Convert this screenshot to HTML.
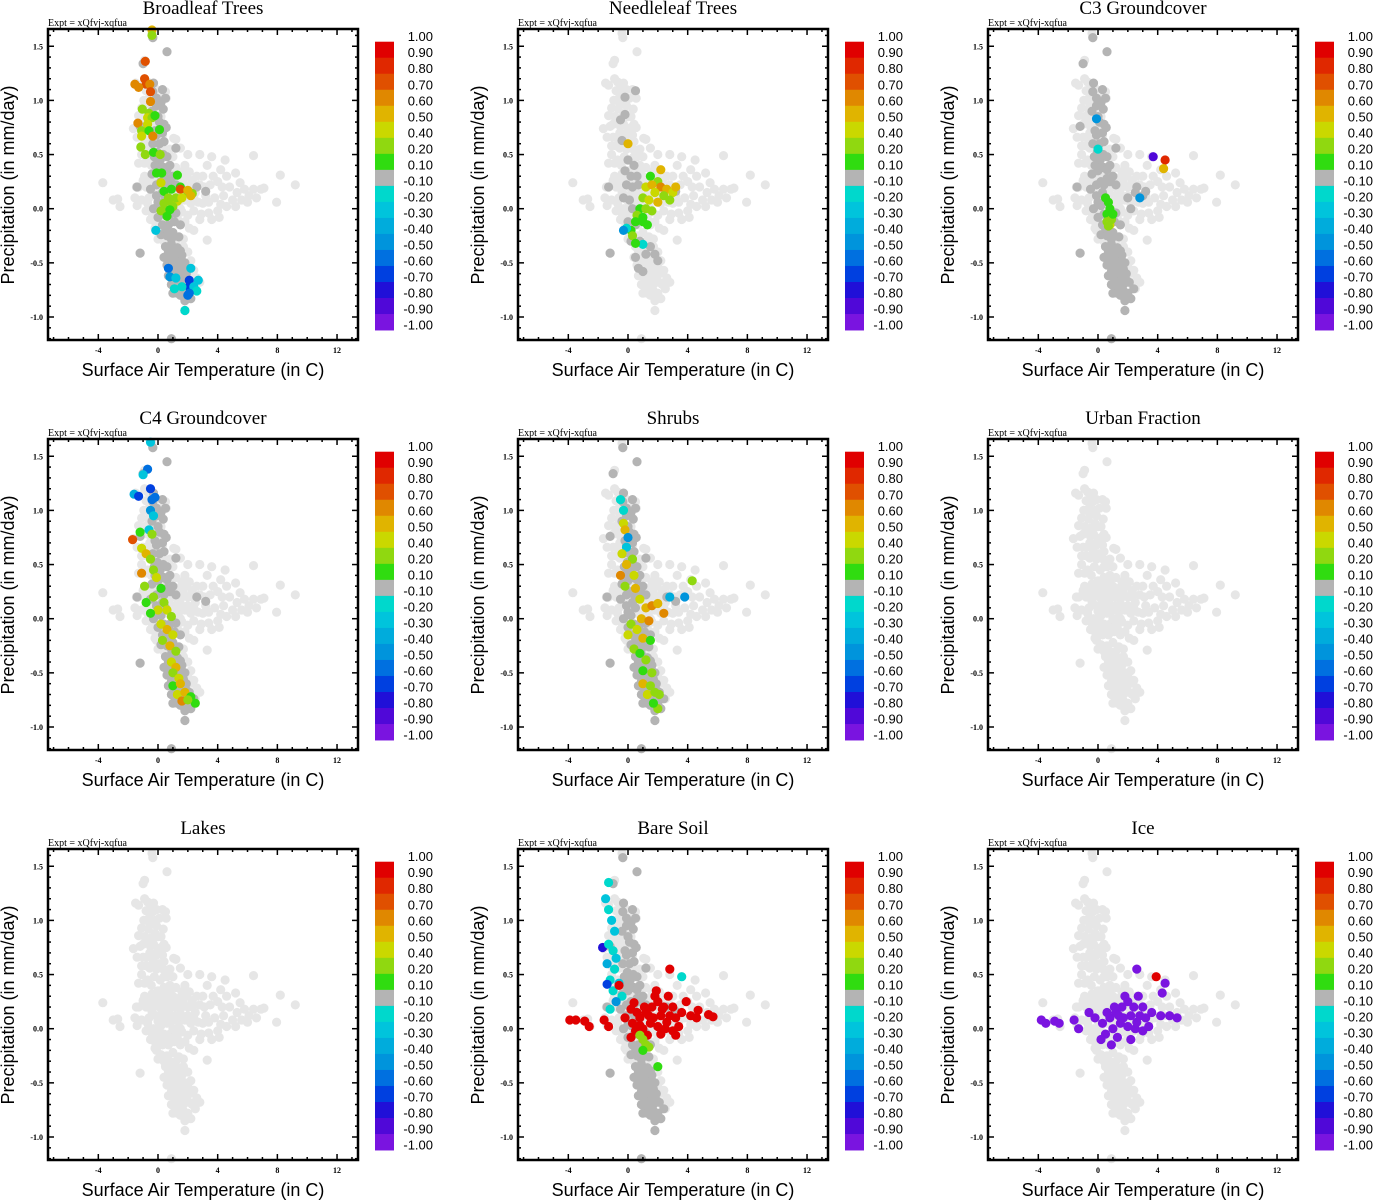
<!DOCTYPE html>
<html><head><meta charset="utf-8"><style>
html,body{margin:0;padding:0;background:#fff;}
svg{display:block;}
.ser{font-family:"Liberation Serif",serif;}
.san{font-family:"Liberation Sans",sans-serif;}
</style></head>
<body>
<svg id="chart" xmlns="http://www.w3.org/2000/svg" width="1373" height="1200" viewBox="0 0 1373 1200"></svg>
<script>
// ---- data ----
const panelTitles = ["Broadleaf Trees","Needleleaf Trees","C3 Groundcover","C4 Groundcover","Shrubs","Urban Fraction","Lakes","Bare Soil","Ice"];
const xTicks = [-4,0,4,8,12];
const yTicks = [-1.0,-0.5,0.0,0.5,1.0,1.5];
const cbLabels = ["1.00","0.90","0.80","0.70","0.60","0.50","0.40","0.20","0.10","-0.10","-0.20","-0.30","-0.40","-0.50","-0.60","-0.70","-0.80","-0.90","-1.00"];
const cbBounds = [1,0.9,0.8,0.7,0.6,0.5,0.4,0.2,0.1,-0.1,-0.2,-0.3,-0.4,-0.5,-0.6,-0.7,-0.8,-0.9,-1.0];
const cbColors = ['#e00000','#e02800','#e05000','#e08800','#e0b400','#cad800','#90d810','#30dc10','#b4b4b4','#00d8cc','#00c4dc','#00acdc','#0094dc','#0070e0','#0040e0','#2010d8','#5008d8','#7a14e0'];

// shared cloud (all grid points, light gray)
const cloud = [[-0.4,1.62],[-0.35,1.58],[0.6,1.45],[-1.0,1.34],[-0.9,1.37],[-1.5,1.16],[-1.3,1.14],[-0.9,1.2],[-0.7,1.17],[-0.5,1.15],[-0.3,1.16],[0.3,1.1],[-0.8,1.09],[-0.35,1.08],[-0.1,1.1],[0.5,1.08],[0.55,1.02],[-1.1,0.93],[-0.65,0.92],[-0.1,0.95],[0.35,0.92],[-0.9,0.85],[-0.45,0.84],[0.0,0.85],[0.4,0.78],[-1.65,0.74],[-1.2,0.76],[-0.75,0.8],[-0.3,0.78],[0.2,0.75],[-1.0,0.66],[-0.55,0.7],[-0.1,0.68],[0.55,0.75],[-0.8,0.58],[-0.35,0.6],[0.1,0.6],[0.4,0.62],[1.05,0.65],[1.2,0.64],[1.5,0.56],[-1.3,0.42],[-0.7,0.45],[-0.25,0.48],[0.15,0.45],[0.6,0.48],[-1.1,0.5],
[-0.6,1.02],[-0.2,1.0],[0.1,1.02],[-0.95,1.0],[-0.55,0.96],[-1.3,0.86],[-0.2,0.88],[0.2,0.85],[-1.0,0.78],[-0.5,0.76],[0.0,0.72],[-1.4,0.66],[-0.75,0.66],[-0.3,0.66],[0.3,0.68],[-1.1,0.58],[-0.55,0.56],[-0.1,0.55],[0.35,0.55],[0.8,0.55],[-0.9,0.42],[-0.45,0.4],[0.4,0.48],[1.0,0.48],[2.0,0.5],
[-0.9,0.3],[-0.4,0.32],[0.0,0.35],[0.4,0.38],[0.8,0.4],[1.2,0.38],[1.8,0.4],[-1.3,0.2],[-0.8,0.2],[-0.3,0.22],[0.2,0.25],[0.6,0.28],[1.0,0.3],[1.4,0.28],[1.9,0.3],[2.3,0.26],[-1.1,0.08],[-0.6,0.1],[-0.1,0.12],[0.3,0.15],[0.7,0.18],[1.1,0.2],[1.5,0.18],[2.0,0.2],[2.5,0.15],[-0.8,-0.02],[-0.3,0.0],[0.2,0.03],[0.6,0.05],[1.0,0.08],[1.4,0.06],[1.8,0.08],[2.2,0.05],[2.7,0.06],[-0.5,-0.1],[0.0,-0.08],[0.4,-0.05],[0.8,-0.05],[1.2,-0.04],[1.6,-0.03],[2.0,-0.06],[-0.2,-0.18],[0.3,-0.15],[0.7,-0.15],[1.1,-0.12],[1.5,-0.15],[2.1,-0.18],[0.2,-0.24],[0.6,-0.25],[1.0,-0.22],[1.4,-0.26],[-0.1,-0.2],
[-0.6,0.25],[-0.1,0.28],[0.4,0.3],[0.8,0.33],[1.6,0.34],[2.1,0.34],[2.6,0.3],[-0.4,0.16],[0.1,0.2],[0.5,0.22],[0.9,0.25],[1.3,0.24],[1.7,0.24],[2.3,0.2],[2.8,0.22],[-0.7,0.05],[0.0,0.07],[0.4,0.1],[0.8,0.13],[1.2,0.12],[1.6,0.12],[2.0,0.12],[2.4,0.1],[3.0,0.05],[-0.4,-0.04],[0.1,-0.02],[1.0,0.0],[1.5,0.0],[2.4,-0.02],[-0.2,-0.12],[0.5,-0.1],[0.9,-0.1],[1.3,-0.09],[1.8,-0.12],[0.0,-0.28],[0.4,-0.3],[0.8,-0.3],[1.2,-0.3],[1.7,-0.28],
[-3.7,0.24],[-3.0,0.08],[-2.7,0.09],[-2.55,0.02],[-1.55,0.1],[-1.45,0.2],[-1.4,0.03],[-1.0,0.26],[-1.2,-0.41],[-0.4,-0.1],
[2.8,0.5],[3.6,0.48],[3.3,0.4],[4.5,0.45],[4.2,0.36],[5.2,0.33],[6.4,0.49],[3.0,0.3],[3.5,0.22],[4.0,0.25],[4.8,0.2],[5.3,0.15],[5.8,0.18],[6.4,0.18],[6.9,0.18],[7.1,0.19],[6.6,0.1],[3.2,0.12],[3.8,0.1],[4.4,0.12],[5.0,0.08],[5.6,0.08],[6.0,0.06],[7.95,0.06],[8.2,0.31],[9.2,0.22],[2.9,-0.05],[3.4,-0.04],[4.0,-0.02],[4.6,0.02],[2.8,-0.1],[4.1,-0.08],[3.3,-0.29],[2.4,-0.2],
[3.1,0.2],[3.7,0.3],[4.3,0.2],[4.6,0.3],[5.5,0.24],[6.1,0.12],[3.4,0.06],[4.2,0.04],[5.2,0.02],[3.6,-0.1],
[0.5,-0.35],[0.9,-0.33],[1.3,-0.36],[1.7,-0.35],[0.4,-0.45],[0.8,-0.42],[1.2,-0.45],[1.6,-0.43],[2.0,-0.4],[0.6,-0.52],[1.0,-0.55],[1.4,-0.52],[1.8,-0.5],[2.2,-0.48],[0.7,-0.62],[1.1,-0.64],[1.5,-0.62],[1.9,-0.6],[2.4,-0.57],[0.9,-0.7],[1.3,-0.73],[1.7,-0.7],[2.1,-0.68],[2.6,-0.64],[2.8,-0.68],[1.0,-0.78],[1.5,-0.8],[2.0,-0.78],[2.5,-0.74],[1.8,-0.85],[2.2,-0.83],[1.8,-0.94],[0.9,-1.2],
[0.7,-0.4],[1.1,-0.4],[1.5,-0.39],[0.8,-0.48],[1.2,-0.5],[1.6,-0.48],[2.0,-0.52],[0.9,-0.58],[1.3,-0.58],[1.7,-0.56],[2.1,-0.6],[1.1,-0.68],[1.5,-0.67],[1.9,-0.66],[1.3,-0.78],[1.7,-0.76],[2.3,-0.7]];

// dark-gray (|r|<0.1) bands
const bandUpper = [[-0.35,1.58],[0.6,1.45],[-1.0,1.34],[-0.3,1.16],[0.3,1.1],[-0.35,1.08],[0.5,1.02],[-0.1,0.95],[0.35,0.92],[0.0,0.85],[0.4,0.78],[-1.2,0.76],[-0.1,0.68],[0.55,0.75],[-0.35,0.6],[0.1,0.6],[0.4,0.62],[1.2,0.56],[-0.25,0.48],[0.15,0.45],[0.6,0.48],[-1.4,0.2],[-0.4,0.32],[0.0,0.35],[0.4,0.38],[0.8,0.4],[0.2,0.25],[0.6,0.28],[1.0,0.3],[-0.1,0.12],[0.3,0.15],[2.6,0.2],[-0.3,0.0],[0.2,0.03],
[-0.1,1.02],[0.2,0.98],[-0.4,0.9],[0.1,0.8],[-0.2,0.72],[0.3,0.7],[-0.05,0.52],[0.35,0.5],[-0.2,0.4],[0.2,0.38],[0.6,0.36],[-0.1,0.22],[0.4,0.22],[0.8,0.25],[0.0,0.06],[0.5,0.1],[-0.5,0.18],[1.2,0.22],[3.2,0.16]];
const bandLower = [[0.0,-0.08],[0.4,-0.05],[0.8,-0.05],[1.2,-0.04],[0.3,-0.15],[0.7,-0.15],[1.1,-0.12],[1.5,-0.15],[0.2,-0.24],[0.6,-0.25],[1.0,-0.22],[1.4,-0.26],[0.5,-0.35],[0.9,-0.33],[1.3,-0.36],[0.4,-0.45],[0.8,-0.42],[1.2,-0.45],[1.6,-0.43],[0.6,-0.52],[1.0,-0.55],[1.4,-0.52],[1.8,-0.5],[0.7,-0.62],[1.1,-0.64],[1.5,-0.62],[1.9,-0.6],[0.9,-0.7],[1.3,-0.73],[1.7,-0.7],[2.1,-0.68],[1.0,-0.78],[1.5,-0.8],[2.0,-0.78],[1.8,-0.85],[2.2,-0.83],[1.8,-0.94],[-1.2,-0.41],[0.9,-1.2],
[0.7,-0.4],[1.1,-0.4],[1.5,-0.39],[0.8,-0.48],[1.2,-0.5],[1.6,-0.48],[0.9,-0.58],[1.3,-0.58],[1.7,-0.56],[1.1,-0.68],[1.5,-0.67],[1.9,-0.66],[1.3,-0.78],[1.7,-0.76],[2.4,-0.74],[0.5,-0.18],[0.9,-0.28]];
const useBands = [[1,1],[0,0],[1,1],[1,1],[1,1],[0,0],[0,0],[1,1],[0,0]];

// colored points per panel: [T, P, r]
const ovBroadleaf = [[-0.4,1.65,0.5],[-0.4,1.6,0.2],[-0.85,1.36,0.7],[-0.9,1.2,0.7],[-0.8,1.15,0.7],[-1.55,1.15,0.6],[-1.3,1.12,0.6],[-0.55,1.15,0.6],[-0.5,1.08,0.7],[-0.5,0.99,0.6],[-1.05,0.92,0.2],[-0.6,0.88,0.2],[-0.7,0.84,0.4],[-0.4,0.84,0.2],[-0.2,0.86,0.1],[-1.35,0.79,0.6],[-0.7,0.78,0.4],[-1.1,0.72,0.2],[-0.6,0.72,0.1],[0.1,0.73,0.1],[-1.1,0.67,0.4],[-0.35,0.67,0.6],[-1.15,0.57,0.2],[-0.85,0.5,0.2],[-0.3,0.52,0.1],[0.15,0.5,0.2],[-0.1,0.33,0.1],[0.25,0.33,0.1],[0.2,0.24,0.4],[1.3,0.31,0.1],[0.4,0.16,0.1],[0.9,0.18,0.1],[1.5,0.2,0.1],[2.0,0.15,0.2],[2.3,0.14,0.2],[1.5,0.18,0.7],[2.0,0.17,0.5],[2.2,0.12,0.5],[0.4,0.05,0.2],[0.9,0.06,0.2],[1.3,0.07,0.4],[1.0,0.02,0.2],[0.2,-0.02,0.2],[0.5,-0.03,0.2],[0.6,-0.07,0.1],[0.8,-0.01,0.1],[1.2,0.1,0.2],[1.6,0.1,0.4],[0.7,0.1,0.2],[-0.15,-0.2,-0.3],[0.7,-0.55,-0.6],[0.8,-0.63,-0.5],[1.2,-0.64,-0.3],[2.1,-0.66,-0.7],[2.7,-0.66,-0.3],[2.1,-0.72,-0.7],[1.1,-0.74,-0.2],[1.6,-0.72,-0.2],[2.4,-0.72,-0.3],[2.6,-0.76,-0.2],[2.0,-0.8,-0.6],[2.1,-0.78,-0.6],[2.2,-0.55,-0.3],[1.8,-0.94,-0.2]];
const ovNeedleleaf = [[-0.5,0.82,0],[-0.2,0.87,0],[-0.2,1.03,0],[0.5,1.09,0],[-0.4,0.63,0],[-1.3,0.2,0],[0.0,0.45,0],[0.4,0.4,0],[-0.2,0.35,0],[0.2,0.3,0],[0.6,0.3,0],[-0.1,0.22,0],[0.3,0.2,0],[0.7,0.22,0],[-0.3,0.1,0],[0.1,0.08,0],[0.3,0.0,0],[0.0,-0.12,0],[0.5,-0.15,0],[0.2,-0.3,0],[0.8,-0.3,0],[1.5,-0.35,0],[1.8,-0.42,0],[0.5,-0.45,0],[1.2,-0.42,0],[0.7,-0.55,0],[1.0,-0.58,0],[2.0,-0.48,0],[-1.2,-0.41,0],[3.2,0.16,0],
[0.0,0.6,0.5],[1.5,0.3,0.1],[2.0,0.25,0.2],[2.2,0.36,0.5],[1.2,0.2,0.4],[1.6,0.22,0.5],[2.2,0.2,0.6],[2.6,0.18,0.5],[3.0,0.15,0.4],[3.2,0.2,0.5],[1.8,0.15,0.4],[2.4,0.12,0.2],[1.0,0.1,0.2],[1.4,0.08,0.4],[2.0,0.06,0.5],[2.8,0.08,0.2],[0.8,0.0,0.1],[1.2,0.0,0.2],[1.6,-0.02,0.2],[0.6,-0.06,0.2],[1.0,-0.08,0.1],[0.5,-0.12,0.1],[0.2,-0.2,0.1],[1.0,-0.12,0.1],[1.3,-0.15,0.1],[-0.1,-0.18,-0.2],[-0.3,-0.2,-0.5],[0.3,-0.25,0.2],[1.0,-0.33,-0.2],[0.5,-0.32,0.1]];
const ovC3 = [[2.0,0.1,0],[2.5,0.15,0],[3.0,0.12,0],[2.2,0.0,0],[-0.1,0.83,-0.5],[0.0,0.55,-0.2],[3.7,0.48,-0.9],[4.5,0.45,0.8],[4.4,0.37,0.5],[2.8,0.1,-0.5],[0.5,0.1,0.1],[0.7,0.06,0.1],[0.8,0.0,0.1],[0.6,-0.05,0.1],[0.9,-0.08,0.1],[0.6,-0.12,0.2],[0.8,-0.15,0.4],[0.9,-0.1,0.2],[1.0,-0.05,0.1],[0.7,-0.16,0.2]];
const ovC4 = [[-0.5,1.63,-0.3],[-0.7,1.38,-0.6],[-1.0,1.33,-0.3],[-0.5,1.2,-0.7],[-1.6,1.15,-0.4],[-1.3,1.13,-0.7],[-0.4,1.1,-0.6],[-0.2,1.12,-0.6],[-0.5,1.0,-0.5],[-0.3,0.95,-0.3],[-1.7,0.73,0.7],[-1.2,0.8,0.1],[-0.6,0.82,-0.3],[-0.4,0.78,0.2],[-1.1,0.65,0.4],[-0.8,0.6,0.5],[-0.5,0.55,0.2],[-1.1,0.42,0.6],[-0.3,0.45,0.2],[-0.1,0.38,0.4],[-0.9,0.3,0.2],[0.2,0.28,0.1],[-0.8,0.15,0.1],[-0.3,0.2,0.2],[0.4,0.15,0.2],[0.0,0.08,0.4],[0.6,0.08,0.4],[-0.5,0.05,0.1],[0.9,0.02,0.2],[0.2,-0.05,0.4],[0.6,-0.1,0.5],[1.0,-0.15,0.4],[0.3,-0.2,0.2],[0.8,-0.25,0.5],[1.2,-0.3,0.2],[0.9,-0.4,0.4],[1.2,-0.45,0.5],[1.0,-0.5,0.2],[1.4,-0.55,0.4],[1.0,-0.62,0.1],[1.5,-0.6,0.5],[1.3,-0.7,0.4],[1.8,-0.68,0.5],[2.2,-0.72,0.1],[1.6,-0.76,0.6],[2.5,-0.78,0.1],[2.0,-0.75,0.2]];
const ovShrubs = [[-0.3,1.0,-0.2],[-0.5,1.1,-0.2],[-0.3,0.88,0.4],[-0.2,0.82,0.5],[0.0,0.75,-0.5],[-0.1,0.66,-0.3],[-0.4,0.6,0.4],[0.3,0.55,0.2],[-0.1,0.5,0.5],[-0.5,0.4,0.6],[0.4,0.4,0.4],[4.3,0.35,0.2],[-0.2,0.3,0.2],[0.5,0.28,0.5],[2.8,0.2,-0.4],[3.8,0.2,-0.5],[0.8,0.18,0.4],[1.2,0.1,0.5],[1.6,0.12,0.6],[2.0,0.14,0.5],[2.4,0.05,0.6],[0.9,0.0,0.5],[1.4,-0.02,0.6],[0.2,-0.05,0.2],[0.6,-0.1,0.4],[0.0,-0.15,0.4],[1.0,-0.18,0.5],[1.5,-0.2,0.1],[0.4,-0.28,0.2],[0.8,-0.32,0.1],[1.2,-0.38,0.2],[1.0,-0.48,0.1],[1.6,-0.5,0.2],[1.0,-0.6,0.5],[1.5,-0.62,0.2],[1.3,-0.7,0.4],[1.8,-0.68,0.2],[2.1,-0.7,0.2],[2.0,-0.83,0.2],[1.7,-0.78,0.1]];
const ovUrban = [];
const ovLakes = [];
const ovBareSoil = [[-1.3,1.35,-0.2],[-1.5,1.2,-0.3],[-1.3,1.1,-0.2],[-1.1,1.0,-0.3],[-0.9,0.9,-0.3],[-1.7,0.75,-0.8],[-1.3,0.78,-0.2],[-1.0,0.72,-0.2],[-0.8,0.65,-0.3],[-1.4,0.6,-0.4],[-0.9,0.55,-0.2],[-1.2,0.45,-0.2],[-0.6,0.42,-0.3],[-1.0,0.35,-0.2],[-0.4,0.3,-0.2],[-0.8,0.25,-0.5],[-1.2,0.18,-0.2],[-1.4,0.41,-0.7],[3.6,0.48,-0.2],
[2.8,0.55,0.9],[-3.9,0.08,0.9],[-3.5,0.08,0.9],[-2.9,0.07,0.9],[-2.6,0.02,0.9],[-1.6,0.08,0.9],[-1.3,0.02,0.9],[-0.6,0.4,0.9],[-0.2,0.1,0.9],[0.3,0.05,0.9],[0.8,0.1,0.9],[1.2,0.15,0.9],[1.6,0.2,0.9],[2.0,0.25,0.9],[2.4,0.2,0.9],[2.8,0.12,0.9],[3.2,0.1,0.9],[3.6,0.15,0.9],[3.9,0.25,0.9],[4.2,0.12,0.9],[4.7,0.17,0.9],[4.6,0.1,0.9],[5.4,0.13,0.9],[5.7,0.11,0.9],[1.0,0.0,0.9],[1.5,0.05,0.9],[2.0,0.02,0.9],[2.5,0.0,0.9],[3.0,-0.02,0.9],[0.5,-0.02,0.9],[1.3,-0.06,0.9],[2.2,-0.05,0.9],[0.2,-0.08,0.9],[3.2,-0.06,0.9],[1.8,0.3,0.9],[1.9,0.35,0.9],[2.7,0.3,0.9],[1.1,0.2,0.9],[2.2,0.12,0.9],[3.4,0.02,0.9],[0.6,0.15,0.9],[0.8,0.03,0.9],[1.7,0.1,0.9],[2.6,0.06,0.9],[3.0,0.2,0.9],[1.4,0.12,0.9],[2.3,0.18,0.9],[0.2,0.18,0.9],[0.4,0.24,0.9],
[1.0,-0.1,0.2],[1.2,-0.15,0.2],[0.8,-0.06,0.2],[1.4,-0.17,0.2],[1.0,-0.2,0.1],[2.0,-0.35,0.1]];
const ovIce = [[3.9,0.48,0.9],[2.6,0.55,-1.0],[4.5,0.42,-1.0],[4.3,0.33,-1.0],[-3.8,0.08,-1.0],[-3.5,0.05,-1.0],[-2.9,0.07,-1.0],[-2.6,0.05,-1.0],[-1.6,0.08,-1.0],[-1.3,0.0,-1.0],[-0.6,0.15,-1.0],[-0.2,0.1,-1.0],[0.3,0.05,-1.0],[0.8,0.1,-1.0],[1.2,0.15,-1.0],[1.6,0.2,-1.0],[2.0,0.25,-1.0],[2.4,0.2,-1.0],[2.8,0.12,-1.0],[3.2,0.1,-1.0],[3.6,0.15,-1.0],[4.2,0.12,-1.0],[4.8,0.12,-1.0],[5.3,0.1,-1.0],[1.0,0.0,-1.0],[1.5,0.05,-1.0],[2.0,0.02,-1.0],[2.5,0.0,-1.0],[3.0,-0.02,-1.0],[0.5,-0.05,-1.0],[1.3,-0.08,-1.0],[2.2,-0.1,-1.0],[0.2,-0.1,-1.0],[0.9,-0.15,-1.0],[1.8,0.3,-1.0],[2.7,0.3,-1.0],[1.1,0.2,-1.0],[2.2,0.12,-1.0],[3.4,0.02,-1.0],[0.6,0.15,-1.0],[3.0,0.2,-1.0],[1.7,0.1,-1.0],[2.6,0.06,-1.0],[1.4,0.12,-1.0]];
const overlays = [ovBroadleaf, ovNeedleleaf, ovC3, ovC4, ovShrubs, ovUrban, ovLakes, ovBareSoil, ovIce];

// ---- drawing ----
const NS = "http://www.w3.org/2000/svg";
const svg = document.getElementById('chart');
const PL = 48, PR = 358, PT = 29, PB = 340;
const xScale = t => 158 + t * 14.92;
const yScale = p => 208.7 - p * 108.3;
function colorFor(v){
  for (let i = 0; i < 18; i++) { if (v >= cbBounds[i+1] - 1e-9) return cbColors[i]; }
  return cbColors[17];
}
function mk(tag, attrs, parent){
  const e = document.createElementNS(NS, tag);
  for (const k in attrs) e.setAttribute(k, attrs[k]);
  parent.appendChild(e);
  return e;
}
function txt(parent, x, y, s, cls, size, anchor, extra){
  const t = mk('text', Object.assign({x:x, y:y, 'font-size':size, 'text-anchor':anchor||'start', class:cls}, extra||{}), parent);
  t.textContent = s;
  return t;
}
function dot(parent, t, p, col){
  return mk('circle', {cx:xScale(t).toFixed(1), cy:yScale(p).toFixed(1), r:3.8, fill:col, stroke:col, 'stroke-width':1.6}, parent);
}
const ox = [0,470,940], oy = [0,410,820];
panelTitles.forEach((title, idx) => {
  const g = mk('g', {transform:`translate(${ox[idx%3]},${oy[Math.floor(idx/3)]})`}, svg);
  
  
  const tt = txt(g, 203, 14, title, 'ser', 19, 'middle');
  
  
  const ex = txt(g, 48, 26, 'Expt = xQfvj-xqfua', 'ser', 10, 'start');
  
  
  const pts = mk('g', {}, g);
  
  
  cloud.forEach(pt => {
    const c = dot(pts, pt[0], pt[1], '#e6e6e6');
    
    
  });
  const ub = useBands[idx];
  if (ub[0]) bandUpper.forEach(pt => {
    const c = dot(pts, pt[0], pt[1], '#b4b4b4');
    
    
  });
  if (ub[1]) bandLower.forEach(pt => {
    const c = dot(pts, pt[0], pt[1], '#b4b4b4');
    
    
  });
  overlays[idx].forEach(pt => {
    const c = dot(pts, pt[0], pt[1], colorFor(pt[2]));
    
    
  });
  const fr = mk('rect', {x:PL, y:PT, width:PR-PL, height:PB-PT, fill:'none', stroke:'#000', 'stroke-width':2.5}, g);
  
  
  const tk = mk('g', {stroke:'#000', 'stroke-width':1.5}, g);
  
  
  for (let v = -7; v <= 13; v++) {
    const x = xScale(v); const L = (v % 4 === 0) ? 6 : 3;
    mk('line', {x1:x, x2:x, y1:PB, y2:PB-L}, tk);
    mk('line', {x1:x, x2:x, y1:PT, y2:PT+L}, tk);
  }
  for (let k = -12; k <= 16; k++) {
    const v = k/10; const y = yScale(v); const L = (k % 5 === 0) ? 6 : 3;
    mk('line', {x1:PL, x2:PL+L, y1:y, y2:y}, tk);
    mk('line', {x1:PR, x2:PR-L, y1:y, y2:y}, tk);
  }
  xTicks.forEach(v => {
    const t = txt(g, xScale(v), 353, String(v), 'ser', 8, 'middle', {'font-weight':'bold'});
    
    
  });
  yTicks.forEach(v => {
    const t = txt(g, 43, yScale(v)+3, v.toFixed(1), 'ser', 8, 'end', {'font-weight':'bold'});
    
    
  });
  const xl = txt(g, 203, 376, 'Surface Air Temperature (in C)', 'san', 18, 'middle');
  
  
  const yl = txt(g, 0, 0, 'Precipitation (in mm/day)', 'san', 18, 'middle', {transform:'translate(14,185) rotate(-90)'});
  
  
  const cb = mk('g', {}, g);
  
  
  const cbTop = 41.7, cbH = 16.02;
  cbColors.forEach((c, i) => {
    const r = mk('rect', {x:375, y:(cbTop + i*cbH).toFixed(2), width:19, height:(cbH+0.4).toFixed(2), fill:c}, cb);
    
    
  });
  cbLabels.forEach((s, i) => {
    const t = txt(cb, 433, cbTop + i*cbH - 0.5, s, 'san', 13, 'end');
    
    
  });
});
</script>
</body></html>
